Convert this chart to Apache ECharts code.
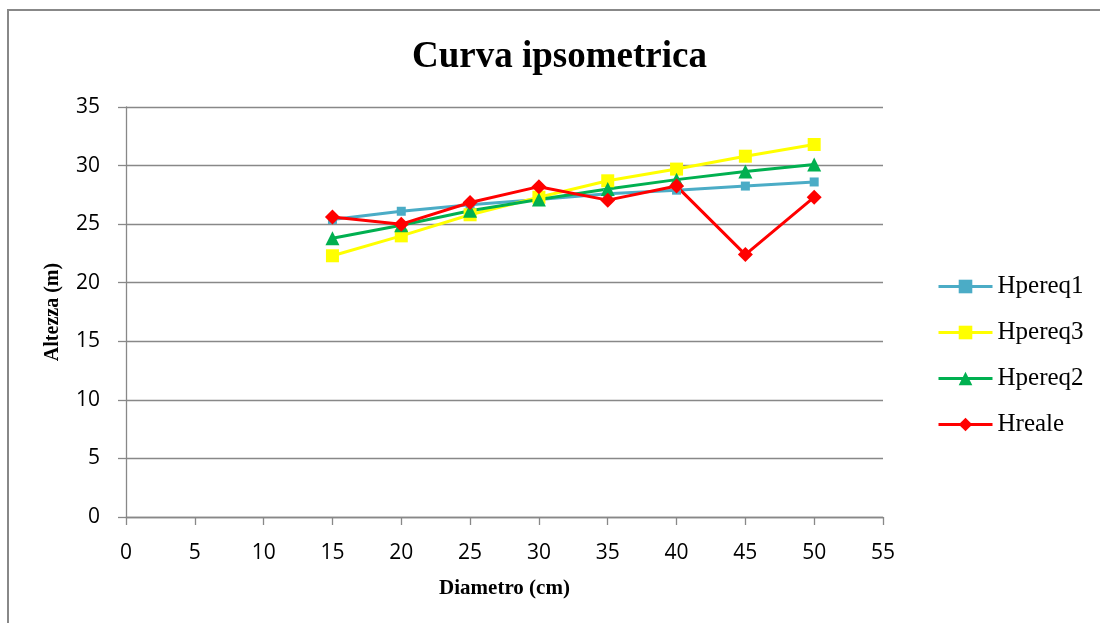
<!DOCTYPE html>
<html>
<head>
<meta charset="utf-8">
<script src="https://cdn.jsdelivr.net/npm/echarts@6/dist/echarts.min.js"></script>
<style>html,body{margin:0;padding:0;background:#fff;}#c{width:1100px;height:623px;}</style>
</head>
<body>
<div id="c"></div>
<script>
const diametro = [15, 20, 25, 30, 35, 40, 45, 50];
const hpereq1 = [25.4, 26.1, 26.65, 27.1, 27.6, 27.9, 28.25, 28.6];
const hpereq3 = [22.3, 24.0, 25.8, 27.3, 28.7, 29.7, 30.8, 31.8];
const hpereq2 = [23.8, 24.9, 26.15, 27.1, 28.0, 28.8, 29.5, 30.1];
const hreale = [25.6, 25.0, 26.85, 28.2, 27.05, 28.25, 22.4, 27.3];
const seriesNames = ['Hpereq1', 'Hpereq3', 'Hpereq2', 'Hreale'];
const titleText = 'Curva ipsometrica';
const xName = 'Diametro (cm)';
const yName = 'Altezza (m)';

const pairs = arr => diametro.map((d, i) => [d, arr[i]]);
const gray = '#888888';

const mk = (name, data, color, symbol, size) => ({
  name: name, type: 'line', data: pairs(data),
  symbol: symbol, symbolSize: size, showSymbol: true,
  lineStyle: { color: color, width: 3 },
  itemStyle: { color: color },
  emphasis: { disabled: true }
});

const chart = echarts.init(document.getElementById('c'));
chart.setOption({
  animation: false,
  backgroundColor: '#fff',
  title: {
    text: titleText, left: 407, top: 34,
    textStyle: { fontFamily: 'Liberation Serif', fontWeight: 'bold', fontSize: 37, color: '#000' }
  },
  graphic: [{
    type: 'rect', shape: { x: 8, y: 10, width: 1200, height: 700 },
    style: { fill: 'none', stroke: gray, lineWidth: 2 }, silent: true, z: -1
  }],
  legend: {
    orient: 'vertical', left: 937, top: 274, padding: 0,
    itemWidth: 54, itemHeight: 17, itemGap: 21,
    lineStyle: { width: 3 },
    textStyle: { fontFamily: 'Liberation Serif', fontSize: 25, lineHeight: 25, color: '#000' },
    data: seriesNames
  },
  grid: { left: 126, right: 217, top: 107, bottom: 106, containLabel: false },
  xAxis: {
    type: 'value', min: 0, max: 55, interval: 5,
    name: xName, nameLocation: 'middle', nameGap: 61,
    nameTextStyle: { fontFamily: 'Liberation Serif', fontWeight: 'bold', fontSize: 21, color: '#000' },
    axisLine: { show: true, lineStyle: { color: gray, width: 1.3 } },
    axisTick: { show: true, inside: false, length: 8, lineStyle: { color: gray, width: 1.3 } },
    axisLabel: { margin: 26, fontFamily: 'Open Sans', fontSize: 21, color: '#000' },
    splitLine: { show: false }
  },
  yAxis: {
    type: 'value', min: 0, max: 35, interval: 5,
    name: yName, nameLocation: 'middle', nameGap: 63, nameRotate: 90,
    nameTextStyle: { fontFamily: 'Liberation Serif', fontWeight: 'bold', fontSize: 20, color: '#000' },
    axisLine: { show: true, lineStyle: { color: gray, width: 1.3 } },
    axisTick: { show: true, inside: false, length: 8, lineStyle: { color: gray, width: 1.3 } },
    axisLabel: { margin: 26, fontFamily: 'Open Sans', fontSize: 21, color: '#000' },
    splitLine: { show: true, lineStyle: { color: gray, width: 1.3 } }
  },
  series: [
    mk(seriesNames[0], hpereq1, '#4BACC6', 'rect', 9),
    mk(seriesNames[1], hpereq3, '#FFFF00', 'rect', 13),
    mk(seriesNames[2], hpereq2, '#00B050', 'triangle', 14),
    mk(seriesNames[3], hreale, '#FF0000', 'diamond', 15)
  ]
});
</script>
</body>
</html>
